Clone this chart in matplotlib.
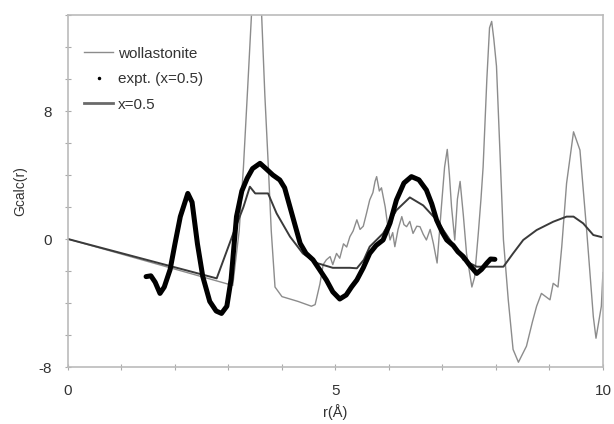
import numpy as np
import matplotlib
matplotlib.use("Agg")
from matplotlib import pyplot as plt
from matplotlib.lines import Line2D

plt.rcParams['font.family'] = ['Liberation Sans', 'DejaVu Sans']
plt.rcParams['axes.unicode_minus'] = False

# wollastonite crystal model
r_woll = [0, 3.08, 3.2, 3.28, 3.36, 3.43, 3.5, 3.56, 3.62, 3.68, 3.74, 3.8, 3.87,
          4.0, 4.3, 4.55, 4.62, 4.71, 4.77, 4.83, 4.9, 4.95, 5.02, 5.08, 5.15,
          5.21, 5.27, 5.33, 5.40, 5.46, 5.52, 5.58, 5.64, 5.70, 5.74, 5.77, 5.82,
          5.86, 5.93, 5.97, 6.02, 6.07, 6.11, 6.17, 6.24, 6.28, 6.33, 6.39, 6.45,
          6.52, 6.58, 6.64, 6.70, 6.77, 6.83, 6.90, 6.98, 7.04, 7.09, 7.13, 7.17,
          7.23, 7.28, 7.33, 7.39, 7.45, 7.55, 7.60, 7.67, 7.72, 7.76, 7.83, 7.88,
          7.92, 7.96, 8.01, 8.08, 8.14, 8.23, 8.32, 8.42, 8.57, 8.68, 8.76, 8.85,
          9.01, 9.07, 9.16, 9.23, 9.32, 9.45, 9.57, 9.70, 9.82, 9.87, 9.97, 10.0]
g_woll = [0, -2.9, 0.5, 4.5, 9.5, 14.0, 15.5, 15.8, 14.0, 9.0, 4.9, 0.5, -3.0,
          -3.6, -3.9, -4.2, -4.1, -2.8, -1.6, -1.3, -1.1, -1.6, -0.9, -1.2, -0.3,
          -0.5, 0.15, 0.5, 1.2, 0.6, 0.8, 1.6, 2.44, 2.9, 3.6, 3.9, 3.0,
          3.2, 2.0, 1.0, -0.06, 0.4, -0.48, 0.6, 1.4, 0.9, 0.77, 1.1, 0.35,
          0.8, 0.77, 0.3, -0.06, 0.6, -0.27, -1.5, 2.0, 4.5, 5.6, 4.0, 2.0,
          -0.06, 2.5, 3.6, 1.5, -0.9, -3.0, -2.4, 0.35, 2.5, 4.5, 10.0, 13.2,
          13.6, 12.5, 10.8, 5.0, -0.06, -3.8, -6.9, -7.7, -6.7, -5.2, -4.2, -3.4,
          -3.8, -2.77, -3.0, -0.48, 3.48, 6.7, 5.56, 0.35, -4.85, -6.2, -4.2, -2.1]

# x = 0.5 glass model
r_mod = [0, 2.78, 3.09, 3.28, 3.40, 3.50, 3.59, 3.74, 3.90, 4.15, 4.39, 4.65,
         4.95, 5.27, 5.40, 5.53, 5.64, 5.89, 6.14, 6.39, 6.64, 6.89, 7.14, 7.39,
         7.64, 7.89, 8.14, 8.32, 8.51, 8.76, 9.07, 9.32, 9.45, 9.63, 9.82, 10.0]
g_mod = [0, -2.46, 0.35, 2.0, 3.27, 2.85, 2.85, 2.85, 1.6, 0.15, -0.9, -1.5,
         -1.8, -1.8, -1.83, -1.3, -0.48, 0.35, 1.8, 2.6, 2.1, 1.19, -0.06, -1.3,
         -1.73, -1.73, -1.73, -0.9, -0.06, 0.56, 1.08, 1.4, 1.4, 0.98, 0.25, 0.1]

# experiment, x = 0.5
r_exp = [1.46, 1.55, 1.63, 1.72, 1.80, 1.91, 2.0, 2.1, 2.24, 2.32, 2.42, 2.52,
         2.65, 2.77, 2.87, 2.97, 3.05, 3.15, 3.25, 3.35, 3.45, 3.59, 3.7, 3.83,
         3.96, 4.05, 4.15, 4.25, 4.34, 4.45, 4.58, 4.7, 4.83, 4.95, 5.08, 5.2,
         5.30, 5.40, 5.52, 5.64, 5.76, 5.89, 6.02, 6.14, 6.28, 6.42, 6.56, 6.70,
         6.80, 6.89, 7.0, 7.08, 7.2, 7.29, 7.39, 7.5, 7.64, 7.73, 7.83, 7.9, 7.98]
g_exp = [-2.35, -2.3, -2.7, -3.4, -3.0, -1.9, -0.3, 1.4, 2.85, 2.3, -0.3, -2.35,
         -3.9, -4.5, -4.65, -4.2, -2.5, 1.4, 3.0, 3.8, 4.4, 4.73, 4.4, 4.0,
         3.69, 3.2, 2.0, 0.8, -0.27, -0.9, -1.3, -1.9, -2.56, -3.3, -3.75, -3.5,
         -3.0, -2.56, -1.8, -0.9, -0.4, -0.06, 1.0, 2.44, 3.5, 3.9, 3.7, 3.06,
         2.2, 1.19, 0.4, -0.06, -0.4, -0.8, -1.1, -1.6, -2.15, -1.9, -1.5, -1.25, -1.27]

fig = plt.figure(figsize=(6.14, 4.24), dpi=100)
ax = fig.add_axes([0.1107, 0.1344, 0.8713, 0.8302])

ax.plot(r_woll, g_woll, color='#8c8c8c', lw=1.0)
ax.plot(r_mod, g_mod, color='#3a3a3a', lw=1.4)
ax.plot(r_exp, g_exp, color='black', lw=3.6, solid_capstyle='round', solid_joinstyle='round')

ax.set_xlim(0, 10)
ax.set_ylim(-8, 14)
ax.set_xticks([0, 5, 10])
ax.set_xticks(np.arange(0, 11, 1), minor=True)
ax.set_yticks([-8, 0, 8])
ax.set_yticks(np.arange(-8, 15, 2), minor=True)
ax.tick_params(which='both', direction='inout', length=5, width=0.8, color='#aaaaaa',
               labelsize=11, labelcolor='#333333')
ax.tick_params(axis='x', which='both', pad=10)
ax.tick_params(axis='y', which='both', pad=9)
for s in ax.spines.values():
    s.set_color('#bbbbbb')
    s.set_linewidth(1.2)

ax.set_xlabel('r(Å)', fontsize=10.5, color='#333333', labelpad=4)
ax.set_ylabel('Gcalc(r)', fontsize=10, color='#333333', labelpad=8)

handles = [Line2D([], [], color='#8c8c8c', lw=1.0),
           Line2D([], [], ls='none', marker='.', ms=3, color='black'),
           Line2D([], [], color='#6a6a6a', lw=2.0)]
labels = ['wollastonite', 'expt. (x=0.5)', 'x=0.5']
leg = ax.legend(handles, labels, loc='upper left', bbox_to_anchor=(0.03, 0.91),
                frameon=False, fontsize=11, handlelength=1.9, handletextpad=0.3,
                labelspacing=0.75, borderpad=0, borderaxespad=0)
for t in leg.get_texts():
    t.set_color('#333333')

fig.savefig('out.png', dpi=100)
